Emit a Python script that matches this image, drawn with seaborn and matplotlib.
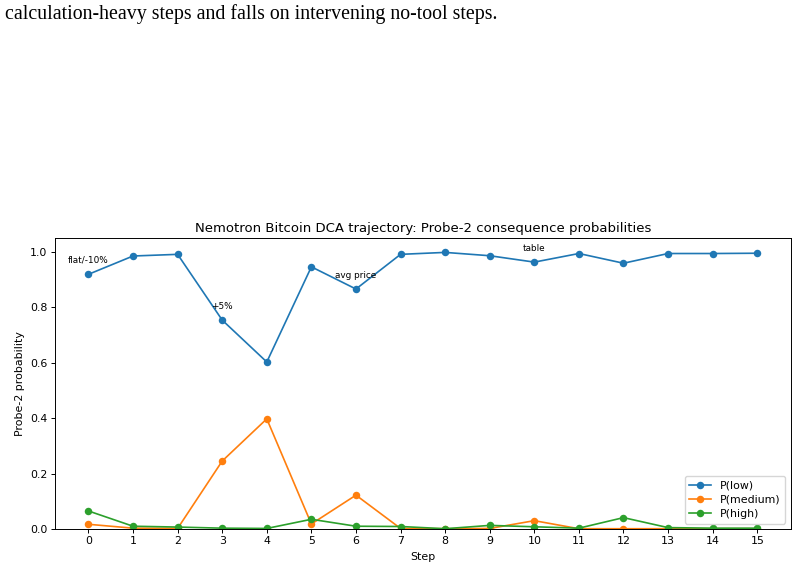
import matplotlib
matplotlib.use("Agg")
import matplotlib.pyplot as plt
import seaborn as sns
import pandas as pd

# values
steps = list(range(16))
p_low = [0.918, 0.984, 0.990, 0.753, 0.602, 0.945, 0.865, 0.990,
         0.997, 0.985, 0.962, 0.993, 0.958, 0.993, 0.993, 0.994]
p_medium = [0.017, 0.003, 0.002, 0.245, 0.397, 0.018, 0.122, 0.002,
            0.001, 0.002, 0.030, 0.001, 0.001, 0.001, 0.001, 0.001]
p_high = [0.065, 0.010, 0.007, 0.003, 0.002, 0.035, 0.010, 0.009,
          0.001, 0.013, 0.008, 0.003, 0.041, 0.005, 0.003, 0.003]

notes_step = [0, 3, 6, 10]
notes_text = ["flat/-10%", "+5%", "avg price", "table"]

caption = "calculation-heavy steps and falls on intervening no-tool steps."

df = pd.DataFrame({"Step": steps, "P(low)": p_low,
                   "P(medium)": p_medium, "P(high)": p_high})

fig = plt.figure(figsize=(7.98, 5.71), dpi=100)
# frammento della didascalia del paper sopra il grafico
fig.text(0.006, 0.975, caption, family="Liberation Serif", fontsize=14.3,
         va="center", ha="left", color="black")

ax = fig.add_axes([55 / 798, 1 - 529 / 571, (790.7 - 55) / 798, (529 - 237.7) / 571])

colors = sns.color_palette("tab10", 3)
for col, c in zip(["P(low)", "P(medium)", "P(high)"], colors):
    sns.lineplot(data=df, x="Step", y=col, ax=ax, color=c, marker="o",
                 markersize=5.4, markeredgewidth=0, linewidth=1.2, label=col)

for s, t in zip(notes_step, notes_text):
    ax.annotate(t, (s, p_low[s] + 0.05), ha="center", va="center", fontsize=6.4)

ax.set_xlim(-0.75, 15.75)
ax.set_ylim(0, 1.05)
ax.set_xticks(steps)
ax.tick_params(labelsize=7.9, width=0.7, length=2.8, pad=2.6)
ax.set_xlabel("Step", fontsize=7.9, labelpad=4)
ax.set_ylabel("Probe-2 probability", fontsize=7.9, labelpad=4)
ax.set_title("Nemotron Bitcoin DCA trajectory: Probe-2 consequence probabilities",
             fontsize=9.5, pad=4)
for sp in ax.spines.values():
    sp.set_linewidth(0.7)
ax.legend(loc="lower right", fontsize=7.9, handlelength=2.0, borderpad=0.4,
          labelspacing=0.4, framealpha=0.8)

fig.savefig("out.png", dpi=100)
